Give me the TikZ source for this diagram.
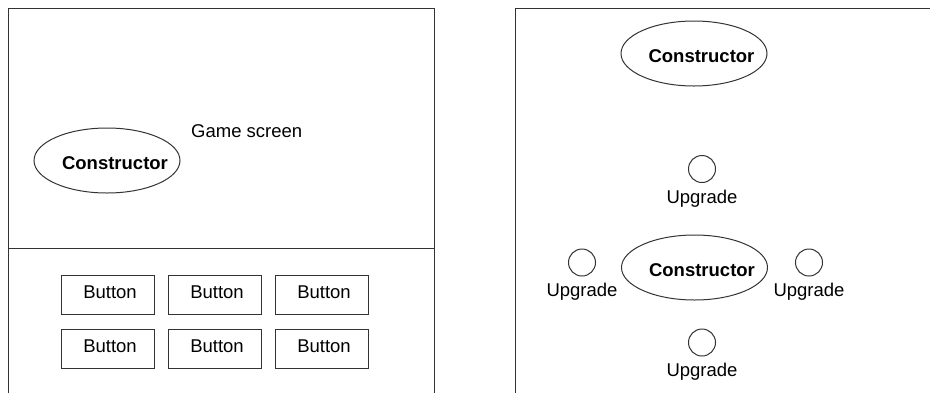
\documentclass[tikz,border=0pt]{standalone}
\usepackage{fontspec}
\setmainfont{Liberation Sans}
\usetikzlibrary{shapes.geometric,calc}

\begin{document}
\begin{tikzpicture}[x=1pt, y=-1pt,
  frame/.style={line width=1pt, draw=black!80},
  ctor/.style={ellipse, draw=black!80, line width=1pt, minimum width=146pt, minimum height=65pt, inner sep=0pt},
  ctortext/.style={anchor=base, inner sep=0pt, font=\fontsize{18.5}{22}\selectfont\bfseries},
  btn/.style={rectangle, draw=black!80, line width=1pt, minimum width=93pt, minimum height=39pt, inner sep=0pt},
  plaintext/.style={anchor=base, inner sep=0pt, font=\fontsize{18.5}{22}\selectfont},
  upcircle/.style={circle, draw=black!80, line width=1pt, minimum size=27pt, inner sep=0pt}]
  \useasboundingbox (0,0) rectangle (930,392);
  \clip (0,0) rectangle (930,392);

  % Left screen: play area and button bar
  \draw[frame] (8,8) rectangle (434,420);
  \draw[frame] (8,248) -- (434,248);
  \node[ctor] (ctorL) at (107,160.5) {};
  \node[ctortext] (ctorLtxt) at ($(ctorL)+(8,8.5)$) {Constructor};
  \node[plaintext, anchor=base west] (gamescr) at (191,137) {Game screen};

  % Button grid
  \foreach \row/\y in {1/294.5, 2/348.5}
    \foreach \col/\x in {1/107.5, 2/214.5, 3/321.5} {
      \node[btn] (btn\row\col) at (\x,\y) {};
      \node[plaintext] (btntxt\row\col) at ($(btn\row\col)+(2.5,3.5)$) {Button};
    }

  % Right screen: constructor with upgrade slots
  \draw[frame] (515,8) rectangle (960,420);
  \node[ctor] (ctorT) at (694,53.5) {};
  \node[ctortext] (ctorTtxt) at ($(ctorT)+(7.5,8.5)$) {Constructor};
  \node[ctor] (ctorM) at (694.5,267.5) {};
  \node[ctortext] (ctorMtxt) at ($(ctorM)+(7.5,9)$) {Constructor};

  \foreach \n/\x/\y in {N/702/169, W/582/262.5, E/809/262.5, S/702/342.5} {
    \node[upcircle] (up\n) at (\x,\y) {};
    \node[plaintext] (uptxt\n) at ($(up\n)+(0,34)$) {Upgrade};
  }
\end{tikzpicture}
\end{document}
